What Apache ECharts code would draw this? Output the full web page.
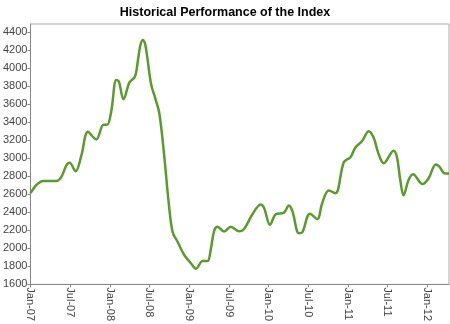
<!DOCTYPE html>
<html>
<head>
<meta charset="utf-8">
<script src="https://cdn.jsdelivr.net/npm/echarts@6/dist/echarts.min.js"></script>
<style>html,body{margin:0;padding:0;background:#fff}#c{width:450px;height:324px}</style>
</head>
<body>
<div id="c"></div>
<script>
// months since Jan-07
var months = [0.0,0.9,1.91,3.92,4.67,5.43,5.92,6.83,7.69,8.7,9.95,11.05,11.61,12.21,12.97,13.37,14.07,14.97,15.72,15.98,16.58,16.99,17.38,18.24,18.89,19.49,20.25,20.91,21.51,22.27,23.26,24.27,25.03,26.04,26.79,27.29,27.79,28.3,29.29,30.3,31.55,32.31,33.57,34.83,35.32,36.23,37.09,38.34,39.09,39.61,40.6,41.11,42.26,43.37,44.13,45.12,46.13,47.39,48.39,49.15,50.16,51.15,51.91,52.57,53.42,54.92,55.43,55.93,56.43,57.18,57.85,59.3,60.2,61.31,61.81,62.72,63.3];
var values = [2612,2703,2747,2747,2793,2920,2949,2855,3029,3293,3209,3372,3372,3517,3868,3850,3654,3842,3897,3951,4240,4313,4258,3824,3662,3499,3011,2504,2178,2070,1926,1835,1774,1860,1860,1998,2197,2240,2186,2240,2189,2215,2378,2487,2450,2262,2378,2396,2476,2414,2168,2178,2385,2324,2504,2642,2612,2956,3011,3119,3192,3300,3228,3065,2945,3083,3011,2758,2587,2758,2823,2714,2775,2931,2910,2830,2830];
var xTickLabels = ['Jan-07','Jul-07','Jan-08','Jul-08','Jan-09','Jul-09','Jan-10','Jul-10','Jan-11','Jul-11','Jan-12'];
var yTicks = [1600,1800,2000,2200,2400,2600,2800,3000,3200,3400,3600,3800,4000,4200,4400];

var data = months.map(function(m,i){return [m, values[i]];});
var chart = echarts.init(document.getElementById('c'), null, {renderer:'canvas'});
chart.setOption({
  animation:false,
  title:{text:'Historical Performance of the Index',left:'center',top:1,
    textStyle:{fontFamily:'Liberation Sans, Arial, sans-serif',fontSize:12.5,fontWeight:'bold',color:'#000'}},
  grid:{left:29,right:1,top:24,bottom:34,show:true,borderColor:'#aaa',borderWidth:1},
  xAxis:{type:'value',min:0,max:63.3,interval:6,
    axisLine:{lineStyle:{color:'#888'}},
    axisTick:{show:true,length:3,lineStyle:{color:'#888'}},
    splitLine:{show:false},
    axisLabel:{rotate:-90,margin:3,showMaxLabel:false,color:'#444',fontSize:11,fontFamily:'Liberation Sans, Arial, sans-serif',
      formatter:function(v){var i=Math.round(v/6);return (Math.abs(v-i*6)<1e-6 && xTickLabels[i])?xTickLabels[i]:'';}}},
  yAxis:{type:'value',min:yTicks[0],max:4490,interval:200,
    axisLine:{show:true,lineStyle:{color:'#888'}},
    axisTick:{show:true,length:3,lineStyle:{color:'#888'}},
    splitLine:{show:false},
    axisLabel:{showMaxLabel:false,margin:3,color:'#444',fontSize:11,fontFamily:'Liberation Sans, Arial, sans-serif',
      formatter:function(v){return yTicks.indexOf(v)>=0?String(v):'';}}},
  series:[{type:'line',data:data,smooth:0.35,symbol:'none',
    lineStyle:{color:'#5b9a2d',width:2.5}}]
});
</script>
</body>
</html>
